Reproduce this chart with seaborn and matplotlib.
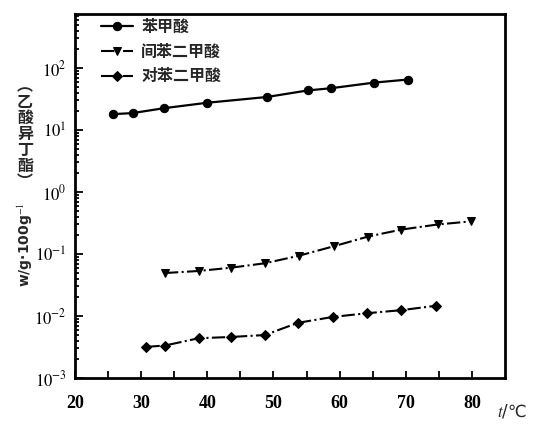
import numpy as np
import pandas as pd
import matplotlib
matplotlib.use("Agg")
import matplotlib.pyplot as plt
import seaborn as sns
from matplotlib.ticker import FixedLocator, LogLocator, NullFormatter

# ---- data ----
series_names = ["苯甲酸", "间苯二甲酸", "对苯二甲酸"]

t_benzoic = [25.8, 28.7, 33.4, 39.9, 49.0, 55.2, 58.7, 65.2, 70.3]
w_benzoic = [18.0, 18.7, 22.4, 27.4, 34.0, 43.4, 47.1, 58.0, 65.0]

t_iso = [33.6, 38.7, 43.6, 48.7, 53.9, 59.1, 64.3, 69.3, 74.8, 79.8]
w_iso = [0.0493, 0.0532, 0.0601, 0.0708, 0.094, 0.133, 0.191, 0.247, 0.299, 0.335]

t_tere = [30.8, 33.6, 38.7, 43.6, 48.7, 53.7, 59.0, 64.2, 69.3, 74.5]
w_tere = [0.00318, 0.00334, 0.00438, 0.00459, 0.00493, 0.00776, 0.00966, 0.0111, 0.0124, 0.0146]

x_ticks = [20, 30, 40, 50, 60, 70, 80]
y_ticks = [1e-3, 1e-2, 1e-1, 1e0, 1e1, 1e2]
y_tick_labels = [r"$10^{-3}$", r"$10^{-2}$", r"$10^{-1}$", r"$10^{0}$", r"$10^{1}$", r"$10^{2}$"]

sns.set_style("ticks")
plt.rcParams["font.family"] = ["DejaVu Sans", "Noto Sans CJK SC"]
plt.rcParams["mathtext.fontset"] = "stix"

fig = plt.figure(figsize=(5.47, 4.30), dpi=100)
ax = fig.add_axes([75 / 547, 1 - 378 / 430, 430 / 547, 364 / 430])

sns.lineplot(x=t_benzoic, y=w_benzoic, ax=ax, color="black", linewidth=1.6,
             marker="o", markersize=6, markeredgecolor="black", label=series_names[0])
sns.lineplot(x=t_iso, y=w_iso, ax=ax, color="black", linewidth=1.5, linestyle="-.",
             marker="v", markersize=6, markeredgecolor="black", label=series_names[1])
sns.lineplot(x=t_tere, y=w_tere, ax=ax, color="black", linewidth=1.5, linestyle="-.",
             marker="D", markersize=5, markeredgecolor="black", label=series_names[2])

ax.set_yscale("log")
ax.set_xlim(20, 85)
ax.set_ylim(1e-3, 10 ** 2.87)

ax.xaxis.set_major_locator(FixedLocator(x_ticks))
ax.xaxis.set_minor_locator(FixedLocator([25, 35, 45, 55, 65, 75]))
ax.set_xticklabels([str(v) for v in x_ticks], fontsize=13, fontweight="bold",
                   family="Liberation Serif")
ax.yaxis.set_major_locator(FixedLocator(y_ticks))
ax.set_yticklabels(y_tick_labels, fontsize=12, fontweight="bold")
ax.yaxis.set_minor_locator(LogLocator(base=10, subs=np.arange(2, 10)))
ax.yaxis.set_minor_formatter(NullFormatter())

ax.tick_params(axis="both", which="both", direction="in", width=1.3, colors="black")
ax.tick_params(axis="x", which="both", length=5, pad=12)
ax.tick_params(axis="y", which="major", length=6, pad=6)
ax.tick_params(axis="y", which="minor", length=3)
for s in ax.spines.values():
    s.set_linewidth(2.0)
    s.set_color("black")

ax.set_xlabel("")
ax.set_ylabel("")

leg = ax.legend(loc="upper left", frameon=False, handlelength=2.0,
                borderaxespad=0.1, borderpad=0.2, labelspacing=0.55, handletextpad=0.5,
                bbox_to_anchor=(0.05, 1.0),
                prop={"family": ["Noto Sans CJK SC", "DejaVu Sans"], "weight": "bold", "size": 11.5})

fig.text(497 / 547, 1 - 412 / 430, r"$t$/℃", fontsize=12, ha="left", va="center",
         family=["DejaVu Sans", "Noto Sans CJK SC"])
fig.text(25 / 547, 1 - 245 / 430, r"w/g·100g$^{-1}$", rotation=90, fontsize=10,
         ha="center", va="center", fontweight="bold")
fig.text(25 / 547, 1 - 134 / 430, "︵\n乙\n酸\n异\n丁\n酯\n︶", fontsize=11.5,
         ha="center", va="center", linespacing=1.0, fontweight="bold",
         family=["Noto Sans CJK SC", "DejaVu Sans"])

fig.savefig("out.png", dpi=100)
